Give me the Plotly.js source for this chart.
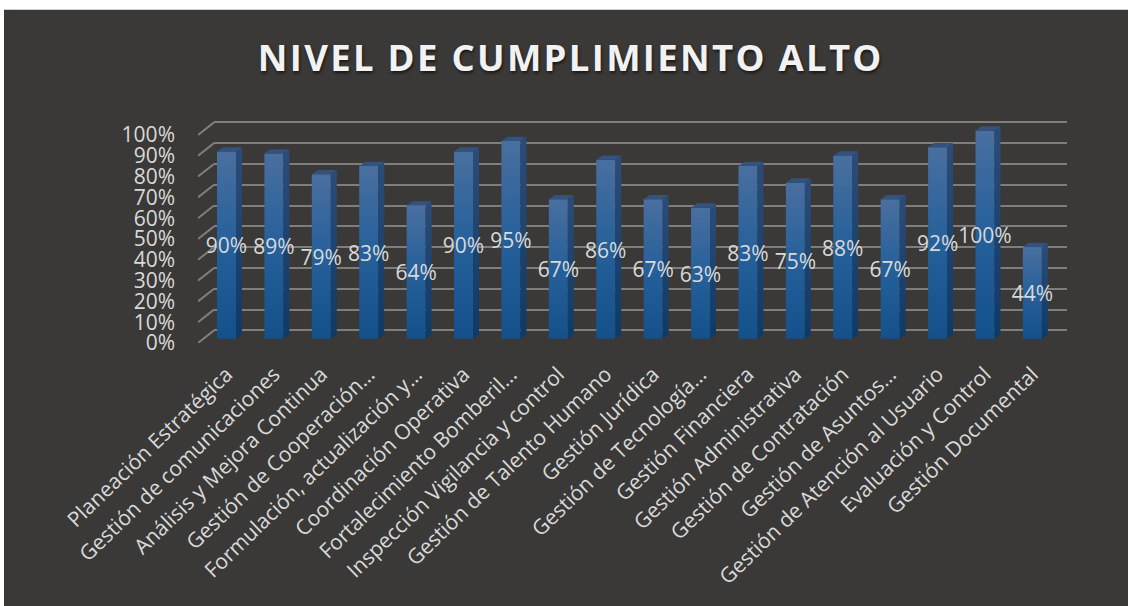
<!DOCTYPE html>
<html><head><meta charset="utf-8">
<script src="https://cdn.plot.ly/plotly-3.0.1.min.js"></script>
<style>html,body{margin:0;padding:0;background:#fff}.gtitle{letter-spacing:2.3px}</style>
</head><body><div id="chart" style="width:1128px;height:606px"></div>
<script>
const categories = ["Planeación Estratégica","Gestión de comunicaciones","Análisis y Mejora Continua","Gestión de Cooperación…","Formulación, actualización y…","Coordinación Operativa","Fortalecimiento Bomberil…","Inspección Vigilancia y control","Gestión de Talento Humano","Gestión Jurídica","Gestión de Tecnología…","Gestión Financiera","Gestión Administrativa","Gestión de Contratación","Gestión de Asuntos…","Gestión de Atención al Usuario","Evaluación y Control","Gestión Documental"];
const values = [90,89,79,83,64,90,95,67,86,67,63,83,75,88,67,92,100,44];
const yTicks = [0,10,20,30,40,50,60,70,80,90,100];
const titleText = "NIVEL DE CUMPLIMIENTO ALTO";

const positions = categories.map((_, i) => i);
const barWidth = 0.4, barBase = 2.07, depthX = 0.1266, depthY = 2.07;
const xMin = -0.601, xMax = 17.73, yMax = 112;
const backX = xMin + 16 / 47.4, backY = 6.06;
const textColor = "#d9d9d9", gridColor = "#7f7e7d";
const font = "'Open Sans', sans-serif";

const stubX = [], stubY = [];
yTicks.forEach(t => { stubX.push(xMin, backX, null); stubY.push(t, t + backY, null); });

const traces = [
  // carrier for the back-wall gridlines, which sit under everything else
  { type: "scatter", mode: "none", x: [0], y: [0], xaxis: "x", yaxis: "y", hoverinfo: "skip" },
  { type: "bar", x: positions, y: values, base: barBase, width: barWidth, xaxis: "x2", yaxis: "y2",
    marker: { color: "#1f5a96", line: { width: 0 } }, hoverinfo: "skip" },
  { type: "scatter", mode: "lines", x: stubX, y: stubY, xaxis: "x2", yaxis: "y2", hoverinfo: "skip",
    line: { color: gridColor, width: 2 } }
];
values.forEach((v, i) => {
  const r = i + barWidth / 2, top = barBase + v;
  traces.push({ type: "scatter", mode: "none", fill: "toself", hoverinfo: "skip", xaxis: "x2", yaxis: "y2",
    x: [r, r + depthX, r + depthX, r, r], y: [barBase, barBase + depthY, top + depthY, top, barBase],
    fillcolor: "#1c4470",
    fillgradient: { type: "vertical", colorscale: [[0, "#0f3a66"], [1, "#2c4c78"]] } });
  traces.push({ type: "scatter", mode: "none", fill: "toself", hoverinfo: "skip", xaxis: "x2", yaxis: "y2",
    x: [r - barWidth, r, r + depthX, r - barWidth + depthX, r - barWidth], y: [top, top, top + depthY, top + depthY, top],
    fillcolor: "#33527e" });
});
traces.push({ type: "scatter", mode: "text", x: positions, y: values.map(v => barBase + v / 2 - 1.5),
  text: values.map(v => v + "%"), textposition: "middle center", hoverinfo: "skip", xaxis: "x2", yaxis: "y2",
  textfont: { family: font, size: 21, color: textColor } });

const plotL = 198, plotR = 1067, W = 1128;
const layout = {
  width: 1128, height: 606, showlegend: false,
  paper_bgcolor: "#ffffff", plot_bgcolor: "rgba(0,0,0,0)",
  margin: { l: plotL, r: W - plotR, t: 110.3, b: 262.7, pad: 0 },
  title: { text: titleText, x: 0.506, xanchor: "center", y: 0.904, yanchor: "middle",
    font: { family: font, size: 36.5, weight: 700, color: "#f2f2f2", shadow: "1px 2px 3px rgba(0,0,0,.6)" } },
  xaxis: { domain: [16 / (plotR - plotL), 1], range: [0, 1], visible: false },
  yaxis: { domain: [0, 1], range: [-backY, yMax - backY], tickmode: "array", tickvals: yTicks, showticklabels: false,
    ticks: "", showgrid: true, gridcolor: gridColor, gridwidth: 2, zeroline: false, showline: false },
  xaxis2: { domain: [0, 1], range: [xMin, xMax], anchor: "y2", tickmode: "array", tickvals: positions, ticktext: categories,
    tickangle: -44, ticks: "", showgrid: false, zeroline: false, showline: false, ticklabelstandoff: 14,
    tickfont: { family: font, size: 21, color: textColor } },
  yaxis2: { domain: [0, 1], range: [0, yMax], anchor: "x2", overlaying: "y", side: "left", tickmode: "array",
    tickvals: yTicks, ticktext: yTicks.map(t => t + "%"), ticks: "", showgrid: false, zeroline: false, showline: false,
    ticklabelstandoff: 22, tickfont: { family: font, size: 21, color: textColor } },
  shapes: [{ type: "rect", xref: "paper", yref: "paper", layer: "below", line: { width: 0 }, fillcolor: "#3a3938",
    x0: -194 / 869, x1: 1.2, y0: -1.3, y1: (343.3 - 10) / 233 }]
};

Plotly.newPlot("chart", traces, layout, { displayModeBar: false, staticPlot: true }).then(gd => {
  const svg = gd.querySelector("svg.main-svg");
  const ns = "http://www.w3.org/2000/svg";
  const grad = document.createElementNS(ns, "linearGradient");
  grad.setAttribute("id", "barFront");
  grad.setAttribute("x1", "0"); grad.setAttribute("y1", "0"); grad.setAttribute("x2", "0"); grad.setAttribute("y2", "1");
  [["0%", "#4a6f9f"], ["50%", "#25609b"], ["100%", "#14508a"]].forEach(([o, c]) => {
    const s = document.createElementNS(ns, "stop");
    s.setAttribute("offset", o); s.setAttribute("stop-color", c); grad.appendChild(s);
  });
  svg.querySelector("defs").appendChild(grad);
  gd.querySelectorAll(".barlayer .point path").forEach(p => { p.style.fill = "url(#barFront)"; });
});
</script></body></html>
